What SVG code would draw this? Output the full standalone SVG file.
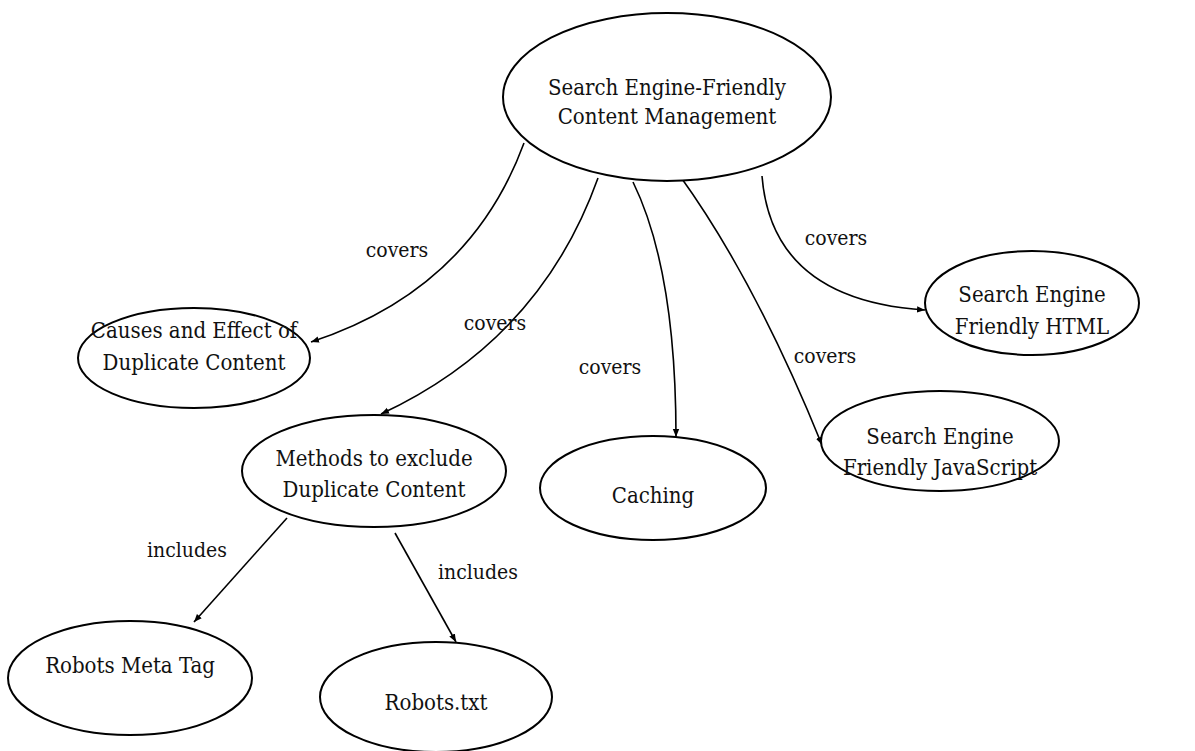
<svg xmlns="http://www.w3.org/2000/svg" width="1195" height="751" viewBox="0 0 1195 751">
  <style>
    .node ellipse { fill: #fff; stroke: #000; stroke-width: 2; }
    .node text { font-family: "DejaVu Serif Condensed", "Liberation Serif", serif; font-stretch: condensed; font-size: 22px; fill: #111; text-anchor: middle; }
    .edge { fill: none; stroke: #000; stroke-width: 1.6; marker-end: url(#arrow); }
    .label { font-family: "DejaVu Serif Condensed", "Liberation Serif", serif; font-stretch: condensed; font-size: 21px; fill: #111; text-anchor: middle; }
  </style>
  <defs>
    <marker id="arrow" viewBox="0 0 10 10" refX="10" refY="5" markerWidth="8" markerHeight="8" orient="auto" markerUnits="userSpaceOnUse">
      <path d="M0,1 L10,5 L0,9 Z" fill="#000"/>
    </marker>
  </defs>
  <rect width="1195" height="751" fill="#fff"/>

  <g id="connectors">
    <path class="edge" d="M524,143 Q470,290 311,342"/>
    <path class="edge" d="M598,178 Q540,340 381,414"/>
    <path class="edge" d="M633,182 Q676,270 676,437"/>
    <path class="edge" d="M680,176 Q755,280 822,445"/>
    <path class="edge" d="M762,176 Q772,300 925,310"/>
    <path class="edge" d="M287,518 L194,622"/>
    <path class="edge" d="M395,533 L456,642"/>
    <text class="label" x="397" y="257">covers</text>
    <text class="label" x="495" y="330">covers</text>
    <text class="label" x="610" y="374">covers</text>
    <text class="label" x="825" y="363">covers</text>
    <text class="label" x="836" y="245">covers</text>
    <text class="label" x="187" y="557">includes</text>
    <text class="label" x="478" y="579">includes</text>
  </g>

  <g id="content-management" class="node">
    <ellipse cx="667" cy="97" rx="164" ry="84"/>
    <text x="667" y="95">Search Engine-Friendly</text>
    <text x="667" y="124">Content Management</text>
  </g>
  <g id="duplicate-content" class="node">
    <ellipse cx="194" cy="358" rx="116" ry="50"/>
    <text x="194" y="338">Causes and Effect of</text>
    <text x="194" y="370">Duplicate Content</text>
  </g>
  <g id="exclude-methods" class="node">
    <ellipse cx="374" cy="471" rx="132" ry="56"/>
    <text x="374" y="466">Methods to exclude</text>
    <text x="374" y="497">Duplicate Content</text>
  </g>
  <g id="caching" class="node">
    <ellipse cx="653" cy="488" rx="113" ry="52"/>
    <text x="653" y="503">Caching</text>
  </g>
  <g id="friendly-javascript" class="node">
    <ellipse cx="940" cy="441" rx="119" ry="50"/>
    <text x="940" y="444">Search Engine</text>
    <text x="940" y="475">Friendly JavaScript</text>
  </g>
  <g id="friendly-html" class="node">
    <ellipse cx="1032" cy="303" rx="107" ry="52"/>
    <text x="1032" y="302">Search Engine</text>
    <text x="1032" y="334">Friendly HTML</text>
  </g>
  <g id="robots-meta-tag" class="node">
    <ellipse cx="130" cy="678" rx="122" ry="57"/>
    <text x="130" y="673">Robots Meta Tag</text>
  </g>
  <g id="robots-txt" class="node">
    <ellipse cx="436" cy="697" rx="116" ry="55"/>
    <text x="436" y="710">Robots.txt</text>
  </g>
</svg>
